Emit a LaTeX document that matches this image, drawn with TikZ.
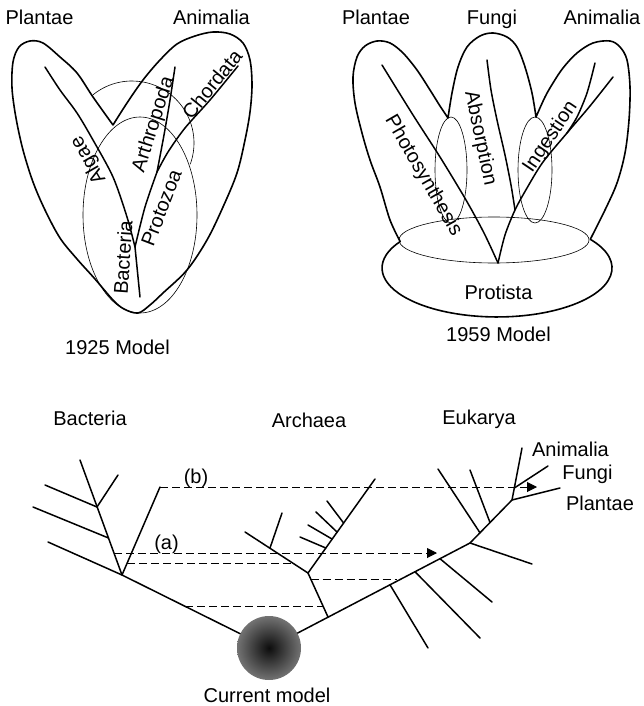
\documentclass[tikz,border=0pt]{standalone}
\usepackage{fontspec}
\setmainfont{Liberation Sans}
\usetikzlibrary{arrows.meta}
\begin{document}
\begin{tikzpicture}[x=1pt,y=-1pt,
  lbl/.style={font=\fontsize{20}{20}\selectfont, inner sep=0pt, text height=14.3pt, text depth=0pt},
  thickline/.style={line width=1.6pt, line join=round, line cap=round},
  branch/.style={line width=1.5pt, line cap=round, line join=round},
  thinline/.style={line width=0.6pt},
  dashln/.style={line width=1pt, dash pattern=on 8pt off 4pt},
  arr/.style={-{Triangle[length=10pt,width=10pt]}}
]
\useasboundingbox (0,0) rectangle (644,706);

%================ 1925 model =================
\draw[thickline] plot[smooth, tension=0.55] coordinates {(113,125) (127,103) (143,80) (160,60) (177,44) (195,36) (213,32) (230,34) (243,43) (250,60) (252,85) (250,112) (245,140) (237,173) (223,207) (207,240) (187,270) (163,293) (150,305) (138,313) (124,309) (113,300) (95,279) (77,259) (60,238) (45,210) (33,182) (23,150) (16,118) (12,88) (13,62) (19,47) (30,41) (43,43) (60,57) (77,73) (93,97) (113,125)};
\draw[thinline] (132,143) ++(231:62) arc[start angle=231, end angle=380, radius=62];
\draw[thinline] (140,215) ellipse[x radius=57, y radius=98];

\coordinate (s0) at (140,297);
\coordinate (j1) at (135,247);
\coordinate (j2) at (157,172);
\coordinate (algtop) at (45,67);
\coordinate (arthtop) at (175,67);
\coordinate (chortop) at (238,66);
\draw[branch] (s0) -- (j1);
\draw[branch] plot[smooth] coordinates {(j1) (127,217) (113,177) (93,140) (77,113) (60,90) (algtop)};
\draw[branch] plot[smooth] coordinates {(j1) (145,207) (j2)};
\draw[branch] plot[smooth] coordinates {(j2) (164,135) (170,100) (arthtop)};
\draw[branch] plot[smooth] coordinates {(j2) (168,152) (185,128) (210,100) (chortop)};

\node[lbl] (tp1) at (39.5,17.5) {Plantae};
\node[lbl] (ta1) at (211.5,17.5) {Animalia};
\node[lbl,rotate=120] (talg) at (87,161) {Algae};
\node[lbl,rotate=86] (tbac) at (123,257.5) {Bacteria};
\node[lbl,rotate=69] (tpro) at (161,208) {Protozoa};
\node[lbl,rotate=72.5] (tart) at (152,124) {Arthropoda};
\node[lbl,rotate=51] (tcho) at (212,84) {Chordata};
\node[lbl] (m1925) at (117.5,347) {1925 Model};

%================ 1959 model =================
\coordinate (pl) at (400.2,241.5);
\coordinate (pr) at (590.3,239.3);
\draw[thickline] plot[smooth,tension=0.55] coordinates {(pl) (390,220) (380,187) (370,160) (362,133) (355,103) (353,77) (357,57) (365,46) (377,41) (390,43) (403,53) (417,70) (430,90) (440,106) (448,118)}
 -- plot[smooth,tension=0.55] coordinates {(448,118) (452,93) (458,67) (467,47) (480,36) (493,33) (507,37) (517,47) (525,67) (532,93) (536,117)}
 -- plot[smooth,tension=0.55] coordinates {(536,117) (545,97) (553,83) (563,68) (577,53) (593,43) (610,41) (620,47) (627,60) (630,87) (629,120) (625,153) (617,183) (605,210) (pr)}
 arc[start angle=-35.8, end angle=212.7, x radius=115, y radius=49] -- cycle;
\draw[thinline] (494,240) ellipse[x radius=95, y radius=23];
\draw[thinline] (451,170) ellipse[x radius=16, y radius=53];
\draw[thinline] (535,170) ellipse[x radius=17, y radius=53];

\coordinate (v) at (498,263);
\coordinate (absj) at (515,210);
\coordinate (anj) at (567,133);
\draw[branch] plot[smooth] coordinates {(382,65) (413,115) (440,157) (466,200) (484,233) (v)};
\draw[branch] plot[smooth] coordinates {(613,77) (590,106) (anj) (543,162) (527,188) (absj) (505,235) (v)};
\draw[branch] plot[smooth] coordinates {(595,63) (587,93) (577,117) (anj)};
\draw[branch] plot[smooth] coordinates {(487,60) (491,90) (497,120) (505,155) (511,185) (absj)};

\node[lbl] (tp2) at (376,17.5) {Plantae};
\node[lbl] (tf2) at (492,17.5) {Fungi};
\node[lbl] (ta2) at (602,17.5) {Animalia};
\node[lbl,rotate=-60] (tphs) at (425,175) {Photosynthesis};
\node[lbl,rotate=-78] (tabs) at (482,138) {Absorption};
\node[lbl,rotate=56] (ting) at (549,136) {Ingestion};
\node[lbl] (tprot) at (498.5,292.5) {Protista};
\node[lbl] (m1959) at (498.5,334.5) {1959 Model};

%================ current model =================
\coordinate (ball) at (269,648);
\coordinate (bl) at (48,542);
\coordinate (n1) at (122,575);
\coordinate (n2) at (108.5,538);
\coordinate (n3) at (97,507);
\coordinate (btop) at (80,460);
\coordinate (bl2) at (33,507);
\coordinate (bl3) at (45,485);
\coordinate (br3) at (118,475);
\coordinate (bb) at (160,487);
\draw[branch] (bl) -- (n1) -- (ball);
\draw[branch] (n1) -- (btop);
\draw[branch] (n2) -- (bl2);
\draw[branch] (n3) -- (bl3);
\draw[branch] (n3) -- (br3);
\draw[branch] (n1) -- (bb);

\coordinate (a0) at (328,617);
\coordinate (a1) at (308,573);
\coordinate (al) at (245,532);
\coordinate (alj) at (270,548);
\coordinate (alt) at (282,513);
\coordinate (ar) at (375,479);
\draw[branch] (a0) -- (a1);
\draw[branch] (a1) -- (al);
\draw[branch] (alj) -- (alt);
\draw[branch] (a1) -- (ar);
\draw[branch] (325.8,548) -- (300,537);
\draw[branch] (332,539) -- (308,525);
\draw[branch] (337,532) -- (316,512);
\draw[branch] (343.6,523) -- (327,501);

\coordinate (e1) at (470,543);
\coordinate (e3) at (512,500);
\coordinate (e4) at (514.3,488);
\coordinate (anim) at (522,448);
\coordinate (fung) at (548,466);
\coordinate (plan) at (560,488);
\draw[branch] (ball) -- (e1) -- (e3) -- (anim);
\draw[branch] (e4) -- (fung);
\draw[branch] (e3) -- (plan);
\draw[branch] (390,584.8) -- (428,648);
\draw[branch] (415,571.7) -- (480,638);
\draw[branch] (440,558.7) -- (492,602);
\draw[branch] (e1) -- (532,564);
\draw[branch] (480,532.8) -- (438,469);
\draw[branch] (490,522.5) -- (470,470);

% dashed time lines
\coordinate (bend) at (537,487);
\coordinate (na) at (114,553);
\coordinate (aend) at (437,553);
\coordinate (d2s) at (127.2,563);
\coordinate (d2e) at (292.6,563);
\coordinate (d3s) at (310.7,579);
\coordinate (d3e) at (397,579);
\coordinate (d4s) at (185,606);
\coordinate (d4e) at (323,606);
\draw[dashln,arr] (bb) -- (bend);
\draw[dashln,arr] (na) -- (aend);
\draw[dashln] (d2s) -- (d2e);
\draw[dashln] (d3s) -- (d3e);
\draw[dashln] (d4s) -- (d4e);

\node[circle, minimum size=64pt, inner sep=0pt, inner color=black!95, outer color=black!55] (ballnode) at (ball) {};

\node[lbl] (tbact) at (90,418) {Bacteria};
\node[lbl] (tarch) at (309,420) {Archaea};
\node[lbl] (teuk) at (479,417.5) {Eukarya};
\node[lbl] (tanim) at (570.5,449) {Animalia};
\node[lbl] (tfung) at (587.5,472) {Fungi};
\node[lbl] (tplan) at (600,503) {Plantae};
\node[lbl] (tb) at (196,476) {(b)};
\node[lbl] (ta) at (166.5,542) {(a)};
\node[lbl] (tcur) at (267,695) {Current model};
\end{tikzpicture}
\end{document}
